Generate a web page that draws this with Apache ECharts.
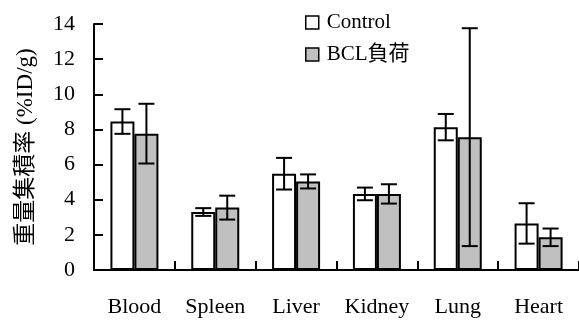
<!DOCTYPE html>
<html>
<head>
<meta charset="utf-8">
<script src="https://cdn.jsdelivr.net/npm/echarts@6/dist/echarts.min.js"></script>
<style>
  html, body { margin: 0; padding: 0; background: #fff; }
  #chart { width: 579px; height: 320px; }
</style>
</head>
<body>
<div id="chart"></div>
<script>
// Organ uptake (%ID/g), mean ± SD
const categories = ['Blood', 'Spleen', 'Liver', 'Kidney', 'Lung', 'Heart'];
const controlMean = [8.45, 3.30, 5.48, 4.33, 8.13, 2.65];
const controlSD   = [0.70, 0.22, 0.90, 0.36, 0.75, 1.15];
const bclMean     = [7.76, 3.55, 5.04, 4.33, 7.56, 1.86];
const bclSD       = [1.70, 0.68, 0.40, 0.55, 6.20, 0.50];
const yTicks = { min: 0, max: 14, interval: 2 };

const seriesNames = ['Control', 'BCL負荷'];
const BAR_W = 24;
const CAP_HALF = 8;
const SERIF = '"Liberation Serif", "Times New Roman", "Noto Sans CJK JP", serif';

function errorData(mean, sd) {
  return categories.map((c, i) => [i, mean[i] - sd[i], mean[i] + sd[i]]);
}

function errorRenderer(offset) {
  return function (params, api) {
    const xi = api.value(0);
    const lo = api.coord([xi, api.value(1)]);
    const hi = api.coord([xi, api.value(2)]);
    const x = lo[0] + offset;
    const style = { stroke: '#000', lineWidth: 2 };
    return {
      type: 'group',
      children: [
        { type: 'line', shape: { x1: x, y1: hi[1], x2: x, y2: lo[1] }, style },
        { type: 'line', shape: { x1: x - CAP_HALF, y1: hi[1], x2: x + CAP_HALF, y2: hi[1] }, style },
        { type: 'line', shape: { x1: x - CAP_HALF, y1: lo[1], x2: x + CAP_HALF, y2: lo[1] }, style }
      ]
    };
  };
}

const chart = echarts.init(document.getElementById('chart'), null, { renderer: 'canvas' });
chart.setOption({
  animation: false,
  backgroundColor: '#fff',
  grid: { left: 94, top: 24, bottom: 50, right: -6, containLabel: false },
  legend: {
    orient: 'vertical',
    left: 305,
    top: 12,
    padding: 0,
    itemWidth: 13,
    itemHeight: 13,
    itemGap: 11,
    icon: 'rect',
    textStyle: { fontFamily: SERIF, fontSize: 21, color: '#000', padding: [0, 0, 0, 3] },
    data: [
      { name: seriesNames[0], itemStyle: { color: '#fff', borderColor: '#000', borderWidth: 1.5 } },
      { name: seriesNames[1], itemStyle: { color: '#c0c0c0', borderColor: '#000', borderWidth: 1.5 } }
    ]
  },
  xAxis: {
    type: 'category',
    data: categories,
    boundaryGap: true,
    axisLine: { show: true, lineStyle: { color: '#000', width: 2 } },
    axisTick: { show: true, inside: true, interval: 0, alignWithLabel: false, length: 9, lineStyle: { color: '#000', width: 2 } },
    axisLabel: { interval: 0, margin: 26, color: '#000', fontFamily: SERIF, fontSize: 22 },
    splitLine: { show: false }
  },
  yAxis: {
    type: 'value',
    min: yTicks.min,
    max: yTicks.max,
    interval: yTicks.interval,
    name: '重量集積率 (%ID/g)',
    nameLocation: 'middle',
    nameRotate: 90,
    nameGap: 57,
    nameTextStyle: { color: '#000', fontFamily: SERIF, fontSize: 23 },
    axisLine: { show: true, lineStyle: { color: '#000', width: 2 } },
    axisTick: { show: true, inside: true, length: 9, lineStyle: { color: '#000', width: 2 } },
    axisLabel: { margin: 19, color: '#000', fontFamily: SERIF, fontSize: 22 },
    splitLine: { show: false }
  },
  series: [
    {
      name: seriesNames[0],
      type: 'bar',
      data: controlMean,
      barWidth: BAR_W,
      barGap: '0%',
      itemStyle: { color: '#fff', borderColor: '#000', borderWidth: 2 }
    },
    {
      name: seriesNames[1],
      type: 'bar',
      data: bclMean,
      barWidth: BAR_W,
      barGap: '0%',
      itemStyle: { color: '#c0c0c0', borderColor: '#000', borderWidth: 2 }
    },
    {
      type: 'custom',
      name: 'controlErr',
      renderItem: errorRenderer(-BAR_W / 2),
      data: errorData(controlMean, controlSD),
      encode: { x: 0, y: [1, 2] },
      z: 10,
      silent: true
    },
    {
      type: 'custom',
      name: 'bclErr',
      renderItem: errorRenderer(BAR_W / 2),
      data: errorData(bclMean, bclSD),
      encode: { x: 0, y: [1, 2] },
      z: 10,
      silent: true
    }
  ]
});
</script>
</body>
</html>
